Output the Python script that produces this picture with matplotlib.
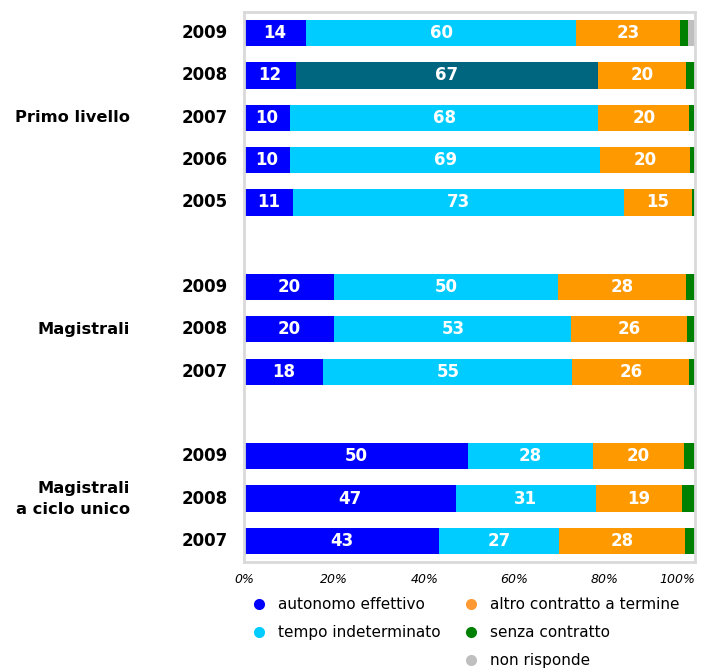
import matplotlib
matplotlib.use("Agg")
import matplotlib.pyplot as plt
from matplotlib.lines import Line2D
import numpy as np

plt.rcParams['font.family'] = ['DejaVu Sans']

series = ["autonomo effettivo", "tempo indeterminato", "altro contratto a termine",
          "senza contratto", "non risponde"]
colors = ["#0000FF", "#00CCFF", "#FF9900", "#008000", "#BFBFBF"]

groups = ["Primo livello", "Magistrali", "Magistrali\na ciclo unico"]
years_primo = ["2009", "2008", "2007", "2006", "2005"]
years_mag = ["2009", "2008", "2007"]
years_cu = ["2009", "2008", "2007"]

autonomo = [13.8, 11.6, 10.2, 10.2, 10.9, 20.0, 20.0, 17.6, 49.7, 47.0, 43.3]
tempo_ind = [59.8, 66.8, 68.4, 68.8, 73.3, 49.6, 52.6, 55.2, 27.6, 31.0, 26.6]
altro = [23.0, 19.6, 20.1, 19.9, 15.1, 28.4, 25.6, 25.9, 20.2, 19.2, 27.9]
senza = [1.9, 2.0, 1.1, 1.1, 0.7, 2.0, 1.8, 1.3, 2.5, 2.8, 2.2]
non_risp = [1.5, 0.0, 0.2, 0.0, 0.0, 0.0, 0.0, 0.0, 0.0, 0.0, 0.0]

# row positions (with blank gaps between groups)
pos = [0, 1, 2, 3, 4, 6, 7, 8, 10, 11, 12]
year_labels = years_primo + years_mag + years_cu
group_rows = [2, 7, 11]

fig = plt.figure(figsize=(7.11, 6.69), dpi=100)
ax = fig.add_axes([244/711, 1-562/669, (695-244)/711, (562-12)/669])

data = [autonomo, tempo_ind, altro, senza, non_risp]
left = np.zeros(len(pos))
for i, vals in enumerate(data):
    vals = np.array(vals)
    cols = [colors[i]] * len(pos)
    if i == 1:
        cols[1] = "#006680"  # highlighted 2008 primo livello
    ax.barh(pos, vals, left=left, height=0.62, color=cols, edgecolor='none')
    if i < 3:
        for p, l, v in zip(pos, left, vals):
            ax.text(l + v/2, p, f"{int(round(v))}", ha='center', va='center',
                    color='white', fontsize=12, fontweight='bold')
    left += vals

ax.set_xlim(0, 100)
ax.set_ylim(12.5, -0.5)
ax.set_yticks([])
ax.set_xticks([0, 20, 40, 60, 80, 100])
ax.set_xticklabels(["0%", "20%", "40%", "60%", "80%", "100%"], fontstyle='italic', fontsize=9)
ax.tick_params(axis='x', length=0, pad=8)
ax.get_xticklabels()[-1].set_horizontalalignment('right')
ax.get_xticklabels()[-1].set_x(100)
for s in ax.spines.values():
    s.set_color('#D9D9D9')
    s.set_linewidth(2)

for p, y in zip(pos, year_labels):
    ax.text(-3.6, p, y, ha='right', va='center', fontsize=12, fontweight='bold',
            transform=ax.transData, clip_on=False)

for g, r in zip(groups, group_rows):
    fig.text(130/711, 1 - (33 + r*42.4)/669, g, ha='right', va='center', fontsize=11.7,
             fontweight='bold', linespacing=1.5)

def h(c):
    return Line2D([], [], linestyle='none', marker='o', markersize=8,
                  markerfacecolor=c, markeredgecolor='none')

blank = Line2D([], [], linestyle='none')
handles = [h(colors[0]), h(colors[1]), blank, h("#FF9933"), h(colors[3]), h(colors[4])]
labels = [series[0], series[1], "", series[2], series[3], series[4]]
fig.legend(handles, labels, ncol=2, loc='upper left', bbox_to_anchor=(251/711, 1-597/669),
           frameon=False, fontsize=11, handlelength=1.0, handletextpad=0.75,
           columnspacing=1.5, labelspacing=0.85, borderaxespad=0, borderpad=0)

fig.savefig("out.png", dpi=100)
